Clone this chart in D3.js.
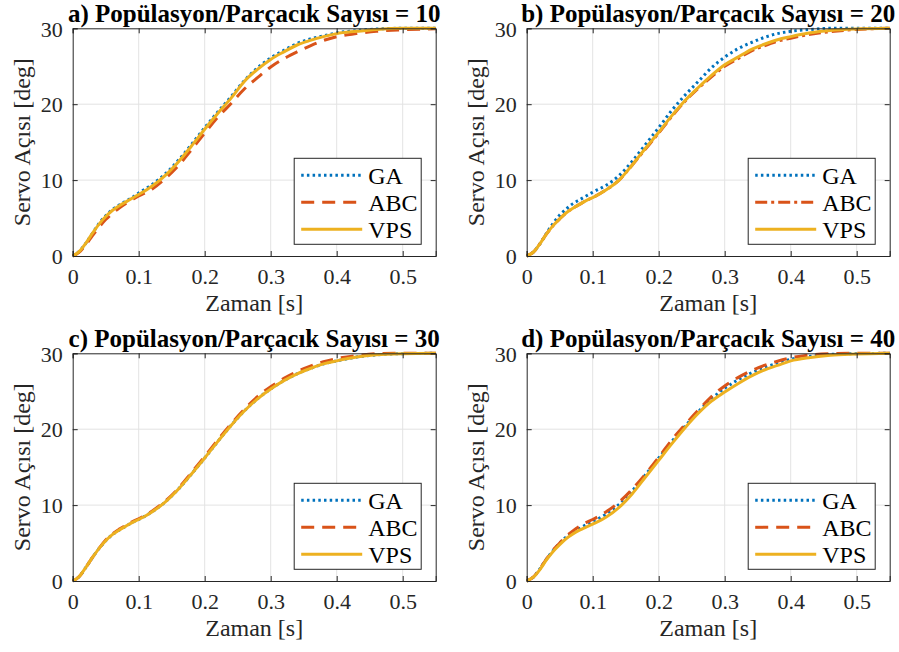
<!DOCTYPE html>
<html>
<head>
<meta charset="utf-8">
<script src="https://cdn.jsdelivr.net/npm/d3@7"></script>
<style>
  body { margin: 0; background: #fff; }
</style>
</head>
<body>
<div id="chart"></div>
<script>
const width = 899;
const height = 652;

// time samples [s]
const time = [0, 0.01, 0.02, 0.03, 0.04, 0.05, 0.06, 0.07, 0.08, 0.09, 0.10,
  0.12, 0.14, 0.16, 0.18, 0.20, 0.22, 0.24, 0.26, 0.28, 0.30,
  0.32, 0.34, 0.36, 0.38, 0.40, 0.43, 0.46, 0.50, 0.55];

const xTicks = [0, 0.1, 0.2, 0.3, 0.4, 0.5];
const yTicks = [0, 10, 20, 30];
const seriesNames = ["GA", "ABC", "VPS"];
const titles = [
  "a) Popülasyon/Parçacık Sayısı = 10",
  "b) Popülasyon/Parçacık Sayısı = 20",
  "c) Popülasyon/Parçacık Sayısı = 30",
  "d) Popülasyon/Parçacık Sayısı = 40"
];

// a) 10
const gaA  = [0, 0.6, 1.7, 3.0, 4.3, 5.3, 6.1, 6.7, 7.2, 7.7, 8.3, 9.4, 10.8, 12.6, 14.7, 16.9, 19.0, 21.0, 23.1, 24.8, 26.1, 27.1, 28.0, 28.6, 29.0, 29.4, 29.7, 29.9, 30, 30];
const abcA = [0, 0.5, 1.5, 2.7, 3.8, 4.8, 5.6, 6.3, 6.9, 7.4, 7.9, 8.8, 10.2, 11.9, 14.0, 16.2, 18.3, 20.1, 22.0, 23.5, 24.9, 26.0, 26.9, 27.7, 28.4, 28.9, 29.3, 29.6, 29.8, 29.95];
const vpsA = [0, 0.6, 1.7, 3.0, 4.2, 5.2, 6.0, 6.6, 7.1, 7.6, 8.1, 9.2, 10.6, 12.4, 14.5, 16.7, 18.8, 20.8, 23.0, 24.6, 25.9, 26.9, 27.8, 28.4, 28.9, 29.3, 29.6, 29.85, 30, 30];

// b) 20
const gaB  = [0, 0.5, 1.6, 3.0, 4.3, 5.4, 6.2, 6.9, 7.4, 7.9, 8.4, 9.3, 10.6, 12.5, 14.7, 16.9, 19.2, 21.2, 23.0, 24.8, 26.2, 27.3, 28.1, 28.8, 29.3, 29.6, 29.85, 30, 30, 30];
const abcB = [0, 0.5, 1.6, 2.9, 4.0, 4.9, 5.7, 6.3, 6.8, 7.3, 7.7, 8.7, 10.0, 12.0, 14.1, 16.2, 18.4, 20.4, 22.1, 23.6, 25.0, 26.0, 27.0, 27.7, 28.3, 28.7, 29.2, 29.55, 29.85, 30];
const vpsB = [0, 0.5, 1.6, 2.9, 4.0, 4.9, 5.7, 6.3, 6.8, 7.3, 7.7, 8.7, 10.0, 12.0, 14.2, 16.3, 18.5, 20.5, 22.2, 23.8, 25.2, 26.2, 27.2, 27.9, 28.5, 28.9, 29.4, 29.7, 29.9, 30];

// c) 30
const gaC  = [0, 0.6, 1.8, 3.1, 4.3, 5.3, 6.1, 6.7, 7.2, 7.7, 8.1, 9.1, 10.4, 12.1, 14.1, 16.2, 18.4, 20.5, 22.4, 24.0, 25.3, 26.4, 27.3, 28.0, 28.6, 29.0, 29.5, 29.8, 29.95, 30];
const abcC = [0, 0.6, 1.8, 3.1, 4.3, 5.4, 6.2, 6.8, 7.3, 7.8, 8.2, 9.2, 10.5, 12.2, 14.3, 16.4, 18.6, 20.7, 22.6, 24.3, 25.6, 26.7, 27.6, 28.3, 28.9, 29.3, 29.7, 29.95, 30, 30];
const vpsC = [0, 0.6, 1.8, 3.1, 4.3, 5.3, 6.1, 6.7, 7.2, 7.7, 8.1, 9.1, 10.4, 12.1, 14.1, 16.2, 18.4, 20.5, 22.4, 24.0, 25.3, 26.4, 27.3, 28.0, 28.6, 29.0, 29.5, 29.8, 29.95, 30];

// d) 40
const gaD  = [0, 0.5, 1.6, 2.9, 4.0, 5.0, 5.8, 6.4, 6.9, 7.4, 7.8, 8.8, 10.1, 11.9, 14.0, 16.2, 18.4, 20.4, 22.3, 24.0, 25.4, 26.5, 27.4, 28.1, 28.7, 29.2, 29.6, 29.85, 29.95, 30];
const abcD = [0, 0.5, 1.6, 2.9, 4.1, 5.0, 5.9, 6.6, 7.2, 7.7, 8.1, 9.1, 10.4, 12.1, 14.1, 16.3, 18.6, 20.6, 22.5, 24.3, 25.7, 26.8, 27.7, 28.4, 28.95, 29.4, 29.8, 29.95, 30, 30];
const vpsD = [0, 0.5, 1.5, 2.8, 3.9, 4.8, 5.6, 6.2, 6.7, 7.1, 7.5, 8.4, 9.7, 11.5, 13.7, 15.9, 18.1, 20.2, 22.1, 23.7, 24.9, 26.0, 27.0, 27.8, 28.4, 29.0, 29.45, 29.75, 29.9, 30];

const panels = [
  { title: titles[0], series: [gaA, abcA, vpsA], left: 72.7, top: 28.3 },
  { title: titles[1], series: [gaB, abcB, vpsB], left: 526.7, top: 28.3 },
  { title: titles[2], series: [gaC, abcC, vpsC], left: 72.7, top: 353.3 },
  { title: titles[3], series: [gaD, abcD, vpsD], left: 526.7, top: 353.3 }
];

const pw = 363;
const ph = 227.7;
const colors = ["#0072BD", "#D95319", "#EDB120"];
const axisColor = "#262626";
const serif = "'Liberation Serif'";

const svg = d3.select("#chart").append("svg")
  .attr("width", width)
  .attr("height", height)
  .attr("font-family", serif);

panels.forEach((p, pi) => {
  const dashes = ["2.5,3.2", pi === 1 ? "12,4,3,4" : "13,8", null];

  const x = d3.scaleLinear().domain([0, 0.55]).range([0, pw]);
  const y = d3.scaleLinear().domain([0, 30]).range([ph, 0]);

  const g = svg.append("g").attr("transform", `translate(${p.left},${p.top})`);

  // grid
  g.append("g").selectAll("line").data(xTicks.slice(1)).join("line")
    .attr("x1", d => x(d)).attr("x2", d => x(d))
    .attr("y1", 0).attr("y2", ph)
    .attr("stroke", "#e3e3e3").attr("stroke-width", 1);
  g.append("g").selectAll("line").data(yTicks.slice(1, -1)).join("line")
    .attr("x1", 0).attr("x2", pw)
    .attr("y1", d => y(d)).attr("y2", d => y(d))
    .attr("stroke", "#e3e3e3").attr("stroke-width", 1);

  // lines
  const line = d3.line()
    .x((d, i) => x(time[i]))
    .y(d => y(d))
    .curve(d3.curveMonotoneX);

  p.series.forEach((s, si) => {
    g.append("path")
      .datum(s)
      .attr("d", line)
      .attr("fill", "none")
      .attr("stroke", colors[si])
      .attr("stroke-width", 3)
      .attr("stroke-dasharray", dashes[si]);
  });

  // axes (ticks inward, box on)
  const tick = 5;
  const xAxis = g.append("g").attr("transform", `translate(0,${ph})`)
    .call(d3.axisBottom(x).tickValues(xTicks).tickSize(-tick).tickPadding(12)
      .tickFormat(d => d === 0 ? "0" : d3.format(".1f")(d)));
  const yAxis = g.append("g")
    .call(d3.axisLeft(y).tickValues(yTicks).tickSize(-tick).tickPadding(10));
  g.append("g")
    .call(d3.axisTop(x).tickValues(xTicks).tickSize(-tick).tickFormat(""));
  g.append("g").attr("transform", `translate(${pw},0)`)
    .call(d3.axisRight(y).tickValues(yTicks).tickSize(-tick).tickFormat(""));

  g.selectAll("g").attr("font-family", serif);
  g.selectAll(".domain").attr("stroke", axisColor).attr("stroke-width", 1);
  g.selectAll(".tick line").attr("stroke", axisColor);
  g.selectAll(".tick text")
    .attr("fill", axisColor)
    .attr("font-size", 22);
  xAxis.selectAll(".tick text").attr("dy", "0.71em");
  yAxis.selectAll(".tick text").attr("dy", "0.35em");

  // title
  g.append("text")
    .attr("x", pw / 2)
    .attr("y", -6)
    .attr("text-anchor", "middle")
    .attr("font-size", 25)
    .attr("font-weight", "bold")
    .attr("fill", "#000")
    .text(p.title);

  // axis labels
  g.append("text")
    .attr("x", pw / 2)
    .attr("y", ph + 55)
    .attr("text-anchor", "middle")
    .attr("font-size", 24)
    .attr("fill", axisColor)
    .text("Zaman [s]");

  g.append("text")
    .attr("transform", `translate(-43,${ph / 2}) rotate(-90)`)
    .attr("text-anchor", "middle")
    .attr("font-size", 24)
    .attr("fill", axisColor)
    .text("Servo Açısı [deg]");

  // legend
  const lg = g.append("g").attr("transform", `translate(${pw - 141.5},${130})`);
  lg.append("rect")
    .attr("width", 127).attr("height", 86)
    .attr("fill", "#fff")
    .attr("stroke", axisColor).attr("stroke-width", 1);
  seriesNames.forEach((name, si) => {
    const cy = 17 + si * 27;
    lg.append("line")
      .attr("x1", 7).attr("x2", 68)
      .attr("y1", cy).attr("y2", cy)
      .attr("stroke", colors[si])
      .attr("stroke-width", 3)
      .attr("stroke-dasharray", dashes[si]);
    lg.append("text")
      .attr("x", 74).attr("y", cy)
      .attr("dy", "0.35em")
      .attr("font-size", 24)
      .attr("fill", "#000")
      .text(name);
  });
});
</script>
</body>
</html>
